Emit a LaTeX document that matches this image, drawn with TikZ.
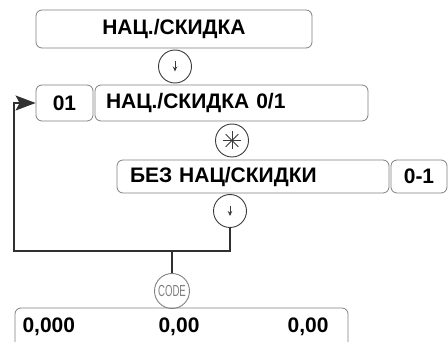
\documentclass[tikz,border=0pt]{standalone}
\usepackage{fontspec}
\setmainfont{Liberation Sans}
\usetikzlibrary{arrows.meta}
\definecolor{boxgray}{HTML}{808080}
\definecolor{keygray}{HTML}{3A3A3A}
\definecolor{linegray}{HTML}{303030}

\begin{document}
\begin{tikzpicture}[
  x=1pt, y=-1pt,
  font=\fontsize{21}{21}\selectfont\bfseries,
  box/.style={draw=boxgray, line width=0.8pt, rounded corners=6pt, inner sep=0pt},
  key/.style={draw=keygray, line width=0.9pt, circle, minimum size=33pt, inner sep=0pt},
  conn/.style={draw=linegray, line width=1.6pt},
]
\useasboundingbox (0,0) rectangle (448,342);
\clip (0,0) rectangle (448,342);

% boxes
\node[box, minimum width=276pt, minimum height=38pt] (menu) at (174,29) {НАЦ./СКИДКА};
\node[box, minimum width=57pt, minimum height=36pt] (num) at (64.5,103) {01};
\node[box, minimum height=36pt, text width=251pt, align=left, inner xsep=11pt] (mode) at (231.5,103) {НАЦ./СКИДКА 0/1};
\node[box, minimum height=33pt, text width=246pt, align=left, inner xsep=13pt] (none) at (253,176.5) {БЕЗ НАЦ/СКИДКИ};
\node[box, minimum width=56pt, minimum height=33pt] (range) at (419,176.5) {0-1};
\node[box, minimum width=333pt, minimum height=44pt] (disp) at (181.5,330) {};
\node[anchor=west] (qty) at (19,327) {0,000};
\node (price) at (179,327) {0,00};
\node[anchor=east] (sum) at (332,327) {0,00};

% keys
\node[key] (down1) at (175,66.5) {};
\node[key] (star) at (232,140.5) {};
\node[key] (down2) at (230,211) {};
\node[key, draw=boxgray, minimum size=35pt] (code) at (172,291)
  {\fontsize{16}{16}\selectfont\mdseries\color{boxgray}\scalebox{0.6}[1]{CODE}};

% key glyphs
\foreach \k in {down1,down2}
  \draw[keygray, line width=1pt, -{Stealth[length=5pt,width=4.5pt]}]
    ([yshift=5pt]\k.center) -- ([yshift=-5pt]\k.center);
\foreach \a in {0,45,90,135}
  \draw[keygray, line width=0.8pt] ([shift={(\a:9pt)}]star.center) -- ([shift={(\a+180:9pt)}]star.center);

% connectors
\coordinate (lft) at (14,251);
\coordinate (jn) at (172,251);
\draw[conn, -{Stealth[length=20pt,width=15pt,inset=4pt]}] (down2.south) |- (lft) |- (num.west);
\draw[conn] (jn) -- (code.north);
\end{tikzpicture}
\end{document}
